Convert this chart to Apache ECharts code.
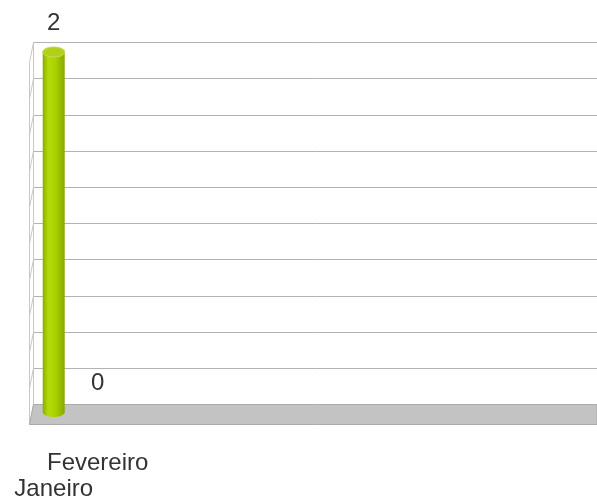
<!DOCTYPE html>
<html>
<head>
<meta charset="utf-8">
<script src="https://cdn.jsdelivr.net/npm/echarts@6/dist/echarts.min.js"></script>
<style>
  html, body { margin: 0; padding: 0; background: #ffffff; }
  #chart { width: 597px; height: 502px; }
</style>
</head>
<body>
<div id="chart"></div>
<script>
// Monthly counts
const categories = ['Janeiro', 'Fevereiro'];
const values = [2, 0];
// Value scale
const yMin = 0;
const yMax = 2;
const yStep = 0.2;

// 3D depth offset of the front edge of floor / side wall
const DEPTH_DX = -4;
const DEPTH_DY = 20;

const chart = echarts.init(document.getElementById('chart'), null, { renderer: 'canvas' });

// Back wall frame: floor slab and the thin left side wall
function renderFrame(params, api) {
  const cs = params.coordSys;
  const x0 = cs.x, x1 = cs.x + cs.width;
  const yb = api.coord([0, yMin])[1];
  const yt = api.coord([0, yMax])[1];
  const children = [];
  children.push({
    type: 'polygon',
    shape: { points: [[x0, yb], [x1, yb], [x1, yb + DEPTH_DY], [x0 + DEPTH_DX, yb + DEPTH_DY]] },
    style: { fill: '#c3c3c3', stroke: '#ababab', lineWidth: 1 }
  });
  const wall = [];
  for (let v = yMin; v <= yMax + 1e-9; v += yStep) {
    const y = api.coord([0, v])[1];
    wall.push({
      type: 'line',
      shape: { x1: x0, y1: y, x2: x0 + DEPTH_DX, y2: y + DEPTH_DY },
      style: { stroke: '#c8c8c8', lineWidth: 1 }
    });
  }
  wall.push({
    type: 'line',
    shape: { x1: x0 + DEPTH_DX, y1: yt + DEPTH_DY, x2: x0 + DEPTH_DX, y2: yb + DEPTH_DY },
    style: { stroke: '#c8c8c8', lineWidth: 1 }
  });
  wall.push({
    type: 'line',
    shape: { x1: x0, y1: yt, x2: x0, y2: yb },
    style: { stroke: '#c8c8c8', lineWidth: 1 }
  });
  return { type: 'group', children: wall.concat(children) };
}

// Cylinder bars with value label above the top cap
function renderCylinder(params, api) {
  const idx = api.value(0);
  const val = api.value(1);
  const base = api.coord([idx, 0]);
  const top = api.coord([idx, val]);
  const cx = base[0];
  const w = api.size([1, 0])[0] * 0.5;
  const rx = w / 2, ry = 5;
  const children = [];
  if (val > 0) {
    const bodyFill = new echarts.graphic.LinearGradient(0, 0, 1, 0, [
      { offset: 0, color: '#8aab00' },
      { offset: 0.25, color: '#b3db0a' },
      { offset: 0.55, color: '#aad400' },
      { offset: 1, color: '#88a800' }
    ]);
    children.push({
      type: 'ellipse',
      shape: { cx: cx, cy: base[1], rx: rx, ry: ry },
      style: { fill: bodyFill }
    });
    children.push({
      type: 'rect',
      shape: { x: cx - rx, y: top[1], width: w, height: base[1] - top[1] },
      style: { fill: bodyFill }
    });
    children.push({
      type: 'ellipse',
      shape: { cx: cx, cy: top[1], rx: rx, ry: ry },
      style: { fill: '#b2cf1c', stroke: '#c3dc55', lineWidth: 1 }
    });
  }
  children.push({
    type: 'text',
    style: {
      text: String(val),
      x: cx,
      y: top[1] - 29,
      align: 'center',
      verticalAlign: 'middle',
      fontSize: 24,
      fontFamily: 'Liberation Sans, Arial, sans-serif',
      fill: '#333333'
    }
  });
  return { type: 'group', children: children };
}

const option = {
  backgroundColor: '#ffffff',
  animation: false,
  grid: [
    { left: 33.5, top: 42.5, right: 0, bottom: 97.5 },
    { left: 31.7, top: 52, width: 88, height: 362 }
  ],
  xAxis: [
    { gridIndex: 0, type: 'value', show: false, min: 0, max: 1 },
    {
      gridIndex: 1,
      type: 'category',
      data: categories,
      axisLine: { show: false },
      axisTick: { show: false },
      axisLabel: {
        interval: 0,
        margin: 38,
        fontSize: 24,
        lineHeight: 26,
        fontFamily: 'Liberation Sans, Arial, sans-serif',
        color: '#333333',
        formatter: function (v, i) { return i % 2 === 0 ? '\n' + v : v; }
      }
    }
  ],
  yAxis: [
    {
      gridIndex: 0,
      type: 'value',
      min: yMin, max: yMax, interval: yStep,
      axisLine: { show: false },
      axisTick: { show: false },
      axisLabel: { show: false },
      splitLine: { lineStyle: { color: '#b3b3b3', width: 1 } }
    },
    {
      gridIndex: 1,
      type: 'value',
      min: yMin, max: yMax, interval: yStep,
      show: false
    }
  ],
  series: [
    {
      type: 'custom',
      xAxisIndex: 0, yAxisIndex: 0,
      renderItem: renderFrame,
      data: [[0, 0]],
      silent: true,
      z: 1
    },
    {
      type: 'custom',
      xAxisIndex: 1, yAxisIndex: 1,
      renderItem: renderCylinder,
      encode: { x: 0, y: 1 },
      data: categories.map(function (c, i) { return [i, values[i]]; }),
      z: 5
    }
  ]
};

chart.setOption(option);
</script>
</body>
</html>
